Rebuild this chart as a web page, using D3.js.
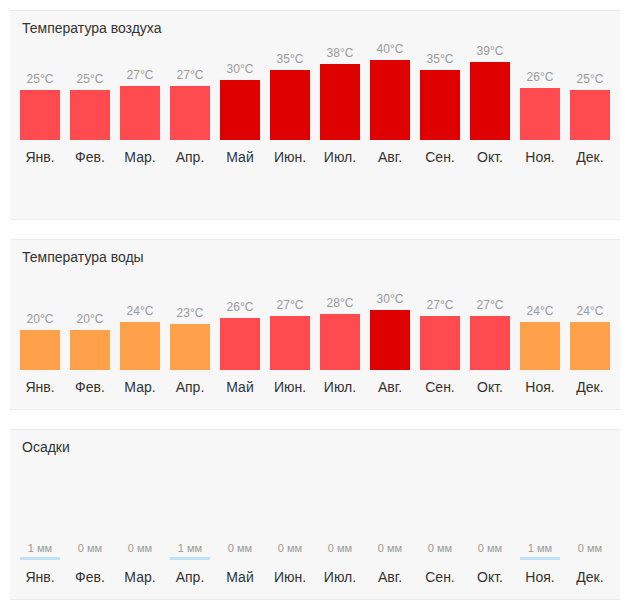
<!DOCTYPE html>
<html><head><meta charset="utf-8">
<script src="https://cdn.jsdelivr.net/npm/d3@7"></script>
<style>body{margin:0;background:#fff;font-family:"Liberation Sans",Arial,sans-serif}</style>
</head><body><svg id="c" width="630" height="610"></svg>
<script>
const months = ["Янв.","Фев.","Мар.","Апр.","Май","Июн.","Июл.","Авг.","Сен.","Окт.","Ноя.","Дек."];
const airTemp = [25,25,27,27,30,35,38,40,35,39,26,25];
const waterTemp = [20,20,24,23,26,27,28,30,27,27,24,24];
const precip = [1,0,0,1,0,0,0,0,0,0,1,0];
const titles = ["Температура воздуха","Температура воды","Осадки"];

const svg = d3.select("#c");
const x = d3.scaleBand().domain(months).range([10,620]).paddingInner(0.2).paddingOuter(0.2);

function tempColor(v){ return v>=30 ? "#df0000" : (v>=25 ? "#ff4b4f" : "#ffa04b"); }

const panels = [
  {top:10, h:210, base:140, data:airTemp, title:titles[0], unit:"°C", k:2},
  {top:239, h:171, base:370, data:waterTemp, title:titles[1], unit:"°C", k:2},
  {top:429, h:171, base:560, data:precip, title:titles[2], unit:" мм", k:3}
];

panels.forEach((p,pi)=>{
  const g = svg.append("g");
  g.append("rect").attr("x",10).attr("y",p.top).attr("width",610).attr("height",p.h).attr("fill","#f7f7f7");
  g.append("line").attr("x1",10).attr("x2",620).attr("y1",p.top+0.5).attr("y2",p.top+0.5).attr("stroke","#ececec");
  g.append("line").attr("x1",10).attr("x2",620).attr("y1",p.top+p.h-0.5).attr("y2",p.top+p.h-0.5).attr("stroke","#ececec");
  g.append("text").attr("x",22).attr("y",p.top+23).attr("font-size",14).attr("fill","#333").text(p.title);

  const y = d3.scaleLinear().domain([0,50]).range([p.base, p.base - 50*p.k]);
  const isPrecip = pi===2;
  g.selectAll("rect.bar").data(p.data).enter().append("rect").attr("class","bar")
    .attr("x",(d,i)=>x(months[i])).attr("width",x.bandwidth())
    .attr("y",d=>y(d)).attr("height",d=>p.base-y(d))
    .attr("fill",d=>isPrecip ? "#bfe2f8" : tempColor(d));
  g.selectAll("text.val").data(p.data).enter().append("text").attr("class","val")
    .attr("x",(d,i)=>x(months[i])+x.bandwidth()/2)
    .attr("y",d=>isPrecip ? p.base-8 : y(d)-7)
    .attr("text-anchor","middle").attr("font-size",isPrecip?11:12).attr("fill","#9a9a9a")
    .text(d=>d+p.unit);
  g.selectAll("text.m").data(months).enter().append("text").attr("class","m")
    .attr("x",d=>x(d)+x.bandwidth()/2).attr("y",p.base+22)
    .attr("text-anchor","middle").attr("font-size",14).attr("fill","#333").text(d=>d);
});
</script></body></html>
